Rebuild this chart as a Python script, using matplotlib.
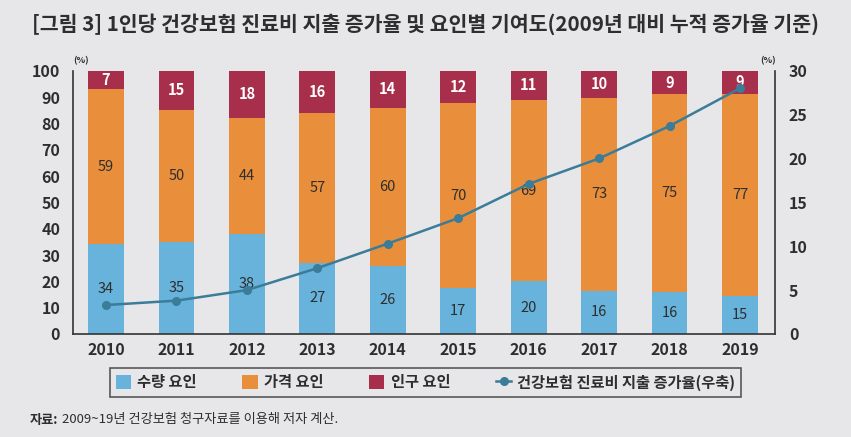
import matplotlib.pyplot as plt
import numpy as np

plt.rcParams['font.family'] = ['Noto Sans CJK KR', 'DejaVu Sans']

years = ['2010', '2011', '2012', '2013', '2014', '2015', '2016', '2017', '2018', '2019']
quantity = [34, 35, 38, 27, 26, 17.4, 20, 16.4, 16, 14.6]
price = [59, 50, 44, 57, 60, 70.4, 69, 73.3, 75, 76.6]
population = [7, 15, 18, 16, 14, 12.2, 11, 10.3, 9, 8.8]
growth = [3.3, 3.8, 5.0, 7.5, 10.3, 13.2, 17.1, 20.0, 23.7, 28.0]

c_blue = '#68b3dc'
c_orange = '#e98f3b'
c_red = '#a82f4b'
c_line = '#3b7c98'
bg = '#e7e7ea'
txt = '#2e2e2e'

fig = plt.figure(figsize=(8.51, 4.37), dpi=100, facecolor=bg)
ax = fig.add_axes([0.0854, 0.2357, 0.8253, 0.6025])
ax.set_facecolor(bg)

x = np.arange(len(years))
w = 0.507
q = np.array(quantity)
p = np.array(price)
r = np.array(population)
ax.bar(x, q, w, color=c_blue, label='수량 요인')
ax.bar(x, p, w, bottom=q, color=c_orange, label='가격 요인')
ax.bar(x, r, w, bottom=q + p, color=c_red, label='인구 요인')

for i in range(len(years)):
    ax.text(x[i], q[i] / 2, f'{round(q[i])}', ha='center', va='center',
            fontsize=10.5, color=txt)
    ax.text(x[i], q[i] + p[i] / 2, f'{round(p[i])}', ha='center', va='center',
            fontsize=10.5, color=txt)
    ax.text(x[i], 100 - r[i] / 2, f'{round(r[i])}',
            ha='center', va='center', fontsize=10.5, color='white', fontweight='bold')

ax.set_xlim(-0.473, 9.497)
ax.set_ylim(0, 100)
ax.set_yticks(range(0, 101, 10))
ax.set_xticks(x)
ax.set_xticklabels(years)
ax.tick_params(length=0, labelsize=11.5, colors=txt, pad=6)
for lab in ax.get_xticklabels() + ax.get_yticklabels():
    lab.set_fontweight('bold')
ax.tick_params(axis='y', pad=9)
for s in ['top', 'right']:
    ax.spines[s].set_visible(False)
for s in ['left', 'bottom']:
    ax.spines[s].set_color('#333333')
    ax.spines[s].set_linewidth(1.2)

ax2 = ax.twinx()
ax2.plot(x, growth, color=c_line, lw=1.8, marker='o', ms=5.5, label='건강보험 진료비 지출 증가율(우축)')
ax2.set_ylim(0, 30)
ax2.set_yticks(range(0, 31, 5))
ax2.tick_params(length=0, labelsize=11.5, colors=txt, pad=10)
for lab in ax2.get_yticklabels():
    lab.set_fontweight('bold')
for s in ['top', 'left', 'bottom']:
    ax2.spines[s].set_visible(False)
ax2.spines['right'].set_color('#333333')
ax2.spines['right'].set_linewidth(1.2)

fig.text(0.086, 0.855, '(%)', fontsize=6.5, color=txt, fontweight='bold')
fig.text(0.893, 0.855, '(%)', fontsize=6.5, color=txt, fontweight='bold')

fig.text(0.5, 0.945, '[그림 3] 1인당 건강보험 진료비 지출 증가율 및 요인별 기여도(2009년 대비 누적 증가율 기준)',
         ha='center', va='center', fontsize=14.8, fontweight='bold', color=txt)

h1, l1 = ax.get_legend_handles_labels()
h2, l2 = ax2.get_legend_handles_labels()
leg = fig.legend(h1 + h2, l1 + l2, loc='center', bbox_to_anchor=(0.5, 0.125), ncol=4,
                 frameon=True, fancybox=False, edgecolor='#333333', facecolor=bg,
                 fontsize=11, handlelength=1.0, handleheight=1.0, columnspacing=3.0,
                 borderpad=0.4, handletextpad=0.4)
leg.get_frame().set_linewidth(1.2)
for t in leg.get_texts():
    t.set_fontweight('bold')
    t.set_color(txt)

fig.text(0.035, 0.04, '자료:', fontsize=9.5, fontweight='bold', color=txt, va='center')
fig.text(0.073, 0.04, '2009~19년 건강보험 청구자료를 이용해 저자 계산.', fontsize=9.5, color=txt, va='center')

fig.savefig('out.png', dpi=100, facecolor=bg)
